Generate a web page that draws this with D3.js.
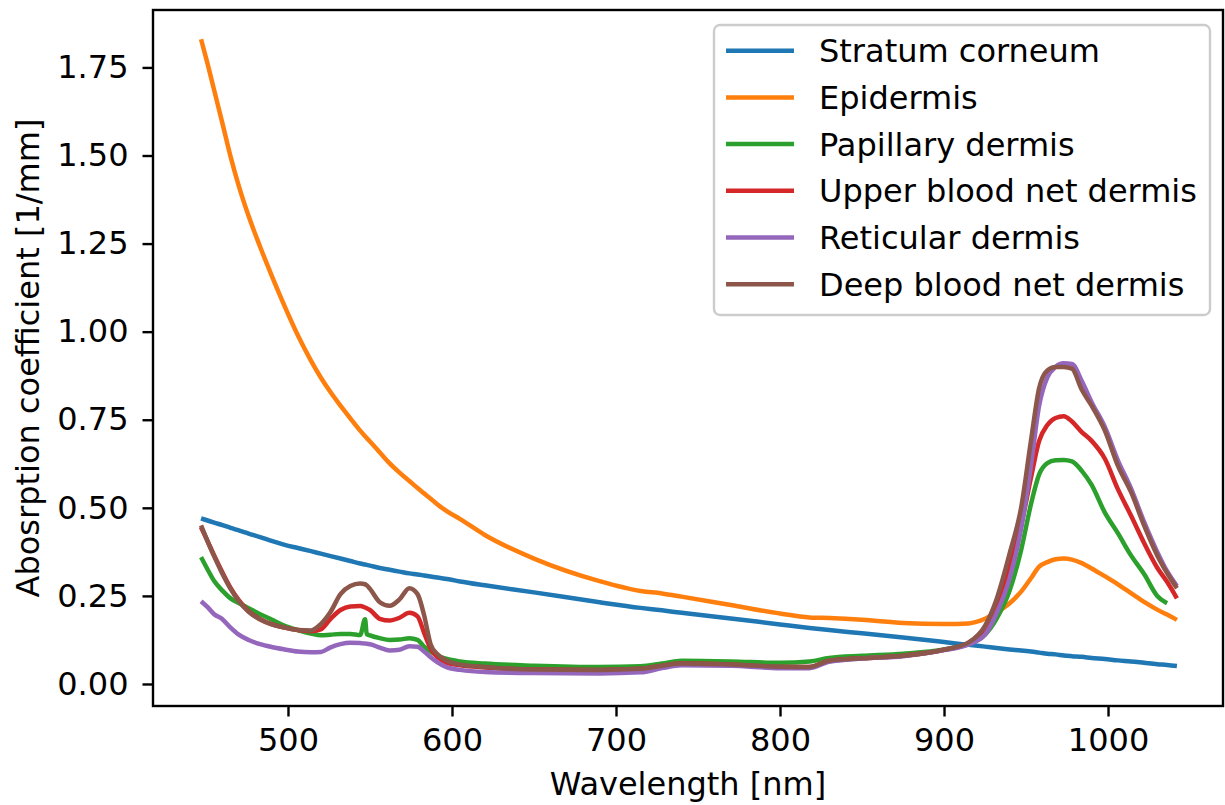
<!DOCTYPE html>
<html>
<head>
<meta charset="utf-8">
<script src="https://cdn.jsdelivr.net/npm/d3@7"></script>
<style>
  body { margin: 0; background: #fff; }
  svg { display: block; font-family: "DejaVu Sans", sans-serif; }
</style>
</head>
<body>
<div id="vis"></div>
<script>
// wavelength grid [nm] shared by all layers
const wavelengths = [447, 451, 455, 460, 465, 470, 476, 483, 490, 498, 506, 514, 520, 526, 532, 538, 544, 547, 548, 550,
  556, 562, 568, 574, 579, 583, 587, 591, 597, 605, 620, 650, 690, 715, 728, 740, 770, 800, 818, 830,
  850, 875, 900, 915, 925, 932, 940, 947, 953, 958, 963, 968, 973, 978, 984, 990, 998, 1006, 1014, 1022,
  1030, 1036, 1042];

const stratumCorneum = [0.470, 0.464, 0.458, 0.451, 0.443, 0.436, 0.427, 0.417, 0.406, 0.395, 0.386, 0.377, 0.370, 0.363, 0.356, 0.349, 0.342, 0.339, 0.338, 0.336,
  0.329, 0.324, 0.319, 0.314, 0.311, 0.308, 0.305, 0.302, 0.298, 0.291, 0.280, 0.260, 0.232, 0.216, 0.209, 0.202, 0.186, 0.169, 0.159, 0.153,
  0.144, 0.132, 0.119, 0.111, 0.106, 0.102, 0.098, 0.095, 0.092, 0.089, 0.086, 0.084, 0.081, 0.079, 0.077, 0.074, 0.071, 0.067, 0.064, 0.060,
  0.056, 0.054, 0.051];

const epidermis = [1.830, 1.760, 1.685, 1.592, 1.497, 1.414, 1.328, 1.241, 1.160, 1.072, 0.990, 0.918, 0.870, 0.828, 0.790, 0.754, 0.719, 0.703, 0.698, 0.688,
  0.657, 0.626, 0.600, 0.576, 0.556, 0.541, 0.526, 0.510, 0.490, 0.468, 0.423, 0.356, 0.292, 0.264, 0.257, 0.248, 0.224, 0.200, 0.189, 0.187,
  0.182, 0.173, 0.170, 0.172, 0.185, 0.203, 0.229, 0.262, 0.300, 0.333, 0.346, 0.354, 0.356, 0.353, 0.343, 0.328, 0.306, 0.283, 0.258, 0.233,
  0.211, 0.197, 0.182];

const papillaryDermis = [0.360, 0.325, 0.292, 0.265, 0.243, 0.230, 0.215, 0.198, 0.183, 0.165, 0.153, 0.143, 0.138, 0.140, 0.142, 0.142, 0.139, 0.184, 0.142, 0.138,
  0.130, 0.125, 0.126, 0.130, 0.125, 0.106, 0.092, 0.081, 0.071, 0.064, 0.058, 0.052, 0.048, 0.050, 0.058, 0.066, 0.064, 0.060, 0.064, 0.074,
  0.080, 0.086, 0.098, 0.114, 0.140, 0.185, 0.265, 0.380, 0.510, 0.595, 0.627, 0.635, 0.636, 0.632, 0.605, 0.565, 0.487, 0.428, 0.365, 0.312,
  0.250, 0.229, null];

const upperBloodNet = [0.445, 0.405, 0.365, 0.317, 0.273, 0.238, 0.207, 0.184, 0.170, 0.160, 0.153, 0.150, 0.155, 0.185, 0.210, 0.220, 0.221, 0.217, 0.215, 0.210,
  0.185, 0.180, 0.188, 0.202, 0.192, 0.145, 0.100, 0.077, 0.060, 0.053, 0.047, 0.041, 0.040, 0.043, 0.052, 0.058, 0.055, 0.048, 0.048, 0.066,
  0.073, 0.080, 0.097, 0.115, 0.150, 0.215, 0.330, 0.450, 0.585, 0.690, 0.735, 0.755, 0.760, 0.745, 0.715, 0.690, 0.640, 0.553, 0.478, 0.400,
  0.330, 0.290, 0.243];

const reticularDermis = [0.235, 0.218, 0.198, 0.184, 0.160, 0.140, 0.125, 0.113, 0.105, 0.098, 0.092, 0.090, 0.091, 0.104, 0.113, 0.117, 0.116, 0.115, 0.114, 0.113,
  0.103, 0.095, 0.097, 0.107, 0.106, 0.092, 0.076, 0.062, 0.047, 0.040, 0.034, 0.031, 0.030, 0.033, 0.045, 0.053, 0.052, 0.045, 0.045, 0.063,
  0.072, 0.079, 0.096, 0.112, 0.140, 0.200, 0.300, 0.440, 0.620, 0.790, 0.870, 0.900, 0.910, 0.908, 0.860, 0.800, 0.730, 0.635, 0.555, 0.460,
  0.375, 0.320, 0.278];

const deepBloodNet = [0.450, 0.405, 0.362, 0.313, 0.270, 0.235, 0.205, 0.183, 0.169, 0.160, 0.153, 0.152, 0.170, 0.205, 0.255, 0.278, 0.285, 0.283, 0.280, 0.270,
  0.232, 0.222, 0.240, 0.272, 0.255, 0.195, 0.112, 0.085, 0.066, 0.055, 0.048, 0.041, 0.040, 0.043, 0.052, 0.058, 0.055, 0.049, 0.048, 0.066,
  0.073, 0.080, 0.097, 0.118, 0.165, 0.240, 0.370, 0.500, 0.690, 0.840, 0.890, 0.900, 0.900, 0.895, 0.835, 0.790, 0.720, 0.620, 0.545, 0.450,
  0.365, 0.315, 0.272];

const layerNames = ["Stratum corneum", "Epidermis", "Papillary dermis", "Upper blood net dermis", "Reticular dermis", "Deep blood net dermis"];
const layerValues = [stratumCorneum, epidermis, papillaryDermis, upperBloodNet, reticularDermis, deepBloodNet];
const layerColors = ["#1f77b4", "#ff7f0e", "#2ca02c", "#d62728", "#9467bd", "#8c564b"];

const xTicks = [500, 600, 700, 800, 900, 1000];
const yTicks = [0, 0.25, 0.5, 0.75, 1.0, 1.25, 1.5, 1.75];

const FRAME_WIDTH = 1225;
const FRAME_HEIGHT = 805;
const MARGINS = { left: 153, right: 2, top: 10, bottom: 99 };
const VIS_WIDTH = FRAME_WIDTH - MARGINS.left - MARGINS.right;
const VIS_HEIGHT = FRAME_HEIGHT - MARGINS.top - MARGINS.bottom;
const FONT = 32;

const svg = d3.select("#vis")
  .append("svg")
  .attr("width", FRAME_WIDTH)
  .attr("height", FRAME_HEIGHT);

const g = svg.append("g")
  .attr("transform", "translate(" + MARGINS.left + "," + MARGINS.top + ")");

// matplotlib style 5% padding around the data
const X_SCALE = d3.scaleLinear().domain([417.7, 1070.1]).range([0, VIS_WIDTH]);
const Y_SCALE = d3.scaleLinear().domain([-0.0625, 1.913]).range([VIS_HEIGHT, 0]);

const line = d3.line()
  .defined((d) => d[1] != null)
  .x((d) => X_SCALE(d[0]))
  .y((d) => Y_SCALE(d[1]))
  .curve(d3.curveMonotoneX);

layerValues.forEach((vals, i) => {
  const pts = wavelengths.map((w, j) => [w, vals[j]]);
  g.append("path")
    .datum(pts)
    .attr("fill", "none")
    .attr("stroke", layerColors[i])
    .attr("stroke-width", 4.5)
    .attr("stroke-linejoin", "round")
    .attr("d", line);
});

// axes
const xAxis = g.append("g")
  .attr("transform", "translate(0," + VIS_HEIGHT + ")")
  .call(d3.axisBottom(X_SCALE).tickValues(xTicks).tickFormat(d3.format("d"))
    .tickSizeInner(10.5).tickSizeOuter(0).tickPadding(12));

const yAxis = g.append("g")
  .call(d3.axisLeft(Y_SCALE).tickValues(yTicks).tickFormat(d3.format(".2f"))
    .tickSizeInner(10.5).tickSizeOuter(0).tickPadding(14));

[xAxis, yAxis].forEach((ax) => {
  ax.select(".domain").remove();
  ax.selectAll(".tick line").attr("stroke", "#000").attr("stroke-width", 2.4);
  ax.selectAll(".tick text")
    .attr("font-family", "DejaVu Sans")
    .attr("font-size", FONT)
    .attr("fill", "#000");
});

// frame
g.append("rect")
  .attr("width", VIS_WIDTH)
  .attr("height", VIS_HEIGHT)
  .attr("fill", "none")
  .attr("stroke", "#000")
  .attr("stroke-width", 2.4);

// axis labels (the y label keeps the original spelling)
svg.append("text")
  .attr("x", MARGINS.left + VIS_WIDTH / 2)
  .attr("y", 795)
  .attr("text-anchor", "middle")
  .attr("font-size", FONT)
  .text("Wavelength [nm]");

svg.append("text")
  .attr("transform", "translate(39," + (MARGINS.top + VIS_HEIGHT / 2) + ") rotate(-90)")
  .attr("text-anchor", "middle")
  .attr("font-size", FONT)
  .text("Abosrption coefficient [1/mm]");

// legend
const legend = svg.append("g").attr("transform", "translate(714,25)");
legend.append("rect")
  .attr("width", 496)
  .attr("height", 290)
  .attr("rx", 6)
  .attr("fill", "#fff")
  .attr("fill-opacity", 0.8)
  .attr("stroke", "#cccccc")
  .attr("stroke-width", 2.4);

layerNames.forEach((name, i) => {
  const y = 25.7 + i * 46.7;
  legend.append("line")
    .attr("x1", 12).attr("x2", 80)
    .attr("y1", y).attr("y2", y)
    .attr("stroke", layerColors[i])
    .attr("stroke-width", 4.5);
  legend.append("text")
    .attr("x", 105)
    .attr("y", y + 11.5)
    .attr("font-size", FONT)
    .text(name);
});
</script>
</body>
</html>
